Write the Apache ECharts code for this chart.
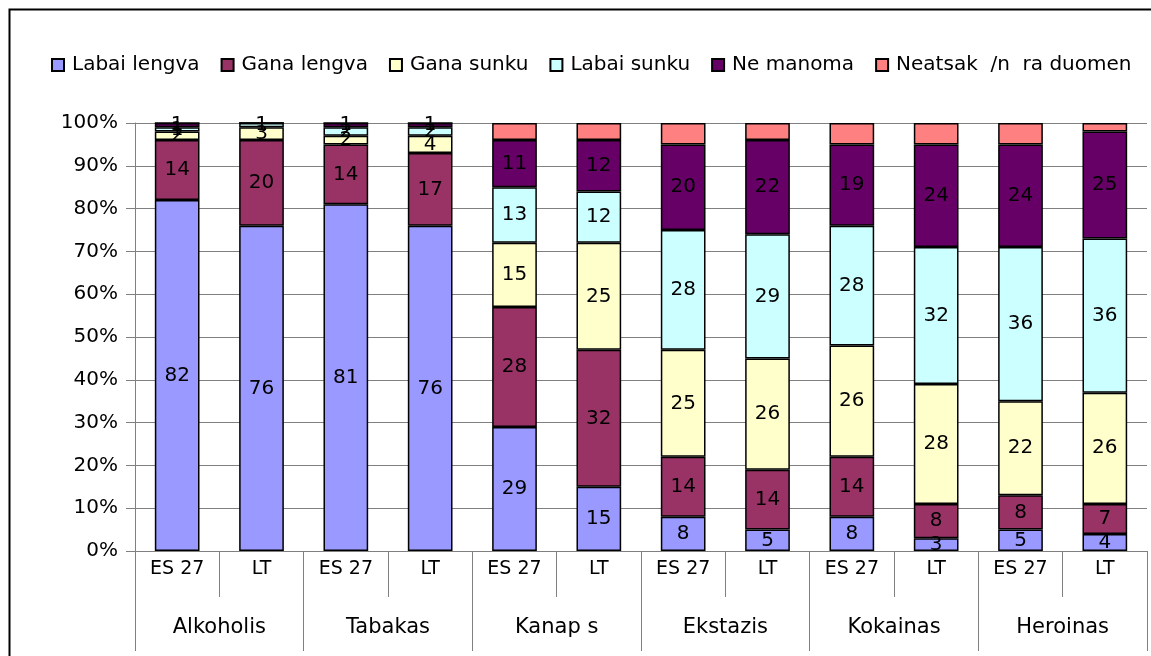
<!DOCTYPE html>
<html>
<head>
<meta charset="utf-8">
<script src="https://cdn.jsdelivr.net/npm/echarts@6/dist/echarts.min.js"></script>
<style>
html,body{margin:0;padding:0;background:#fff;}
#c{width:1151px;height:656px;}
</style>
</head>
<body>
<div id="c"></div>
<script>
const categories = ['ES 27','LT','ES 27','LT','ES 27','LT','ES 27','LT','ES 27','LT','ES 27','LT'];
const groups = ['Alkoholis','Tabakas','Kanap s','Ekstazis','Kokainas','Heroinas'];
const seriesNames = ['Labai lengva','Gana lengva','Gana sunku','Labai sunku','Ne manoma','Neatsak  /n  ra duomen'];
const labaiLengva = [82,76,81,76,29,15,8,5,8,3,5,4];
const ganaLengva  = [14,20,14,17,28,32,14,14,14,8,8,7];
const ganaSunku   = [2,3,2,4,15,25,25,26,26,28,22,26];
const labaiSunku  = [1,1,2,2,13,12,28,29,28,32,36,36];
const neManoma    = [1,0,1,1,11,12,20,22,19,24,24,25];
const neatsak     = [0,0,0,0,4,4,5,4,5,5,5,2];
const yTicks = [0,10,20,30,40,50,60,70,80,90,100];
const colors = ['#9999FF','#993366','#FFFFCC','#CCFFFF','#660066','#FF8080'];

const FONT = 'DejaVu Sans';
const dataSets = [labaiLengva, ganaLengva, ganaSunku, labaiSunku, neManoma, neatsak];

const chart = echarts.init(document.getElementById('c'), null, {renderer:'canvas'});
chart.setOption({
  animation:false,
  textStyle:{fontFamily:FONT,color:'#000'},
  graphic:[{
    type:'rect', left:7, top:7, silent:true,
    shape:{x:0,y:0,width:1160,height:700},
    style:{fill:'none',stroke:'#000',lineWidth:2}
  }],
  legend:{
    top:50, left:46,
    itemWidth:12, itemHeight:12, itemGap:21,
    icon:'rect',
    textStyle:{fontFamily:FONT,fontSize:20,color:'#000',padding:[0,0,0,3]},
    data:seriesNames
  },
  grid:{left:135, right:4, top:123, bottom:105, containLabel:false},
  xAxis:[{
    type:'category', data:categories,
    axisLine:{lineStyle:{color:'#808080',width:1}},
    axisTick:{show:true,interval:0,length:46,lineStyle:{color:'#808080'}},
    axisLabel:{interval:0,margin:9,fontFamily:FONT,fontSize:19,color:'#000'}
  },{
    type:'category', data:groups, position:'bottom', offset:46,
    axisLine:{show:false},
    axisTick:{show:true,interval:0,length:54,lineStyle:{color:'#808080'}},
    axisLabel:{interval:0,margin:20,fontFamily:FONT,fontSize:21,color:'#000'}
  }],
  yAxis:{
    type:'value', min:0, max:100, interval:10,
    axisLine:{show:true,lineStyle:{color:'#808080'}},
    axisTick:{show:true,length:9,lineStyle:{color:'#808080'}},
    axisLabel:{formatter:'{value}%',margin:17,fontFamily:FONT,fontSize:20,color:'#000'},
    splitLine:{show:true,lineStyle:{color:'#808080',width:1}}
  },
  series: seriesNames.map((n,i)=>({
    name:n, type:'bar', stack:'total', xAxisIndex:0,
    barWidth:'53%',
    data:dataSets[i],
    itemStyle:{color:colors[i],borderColor:'#000',borderWidth:1.5},
    label:{
      show:i<5, position:'inside', color:'#000',
      fontFamily:FONT, fontSize:20,
      formatter:p=>p.value>0?String(p.value):''
    }
  }))
});
</script>
</body>
</html>
